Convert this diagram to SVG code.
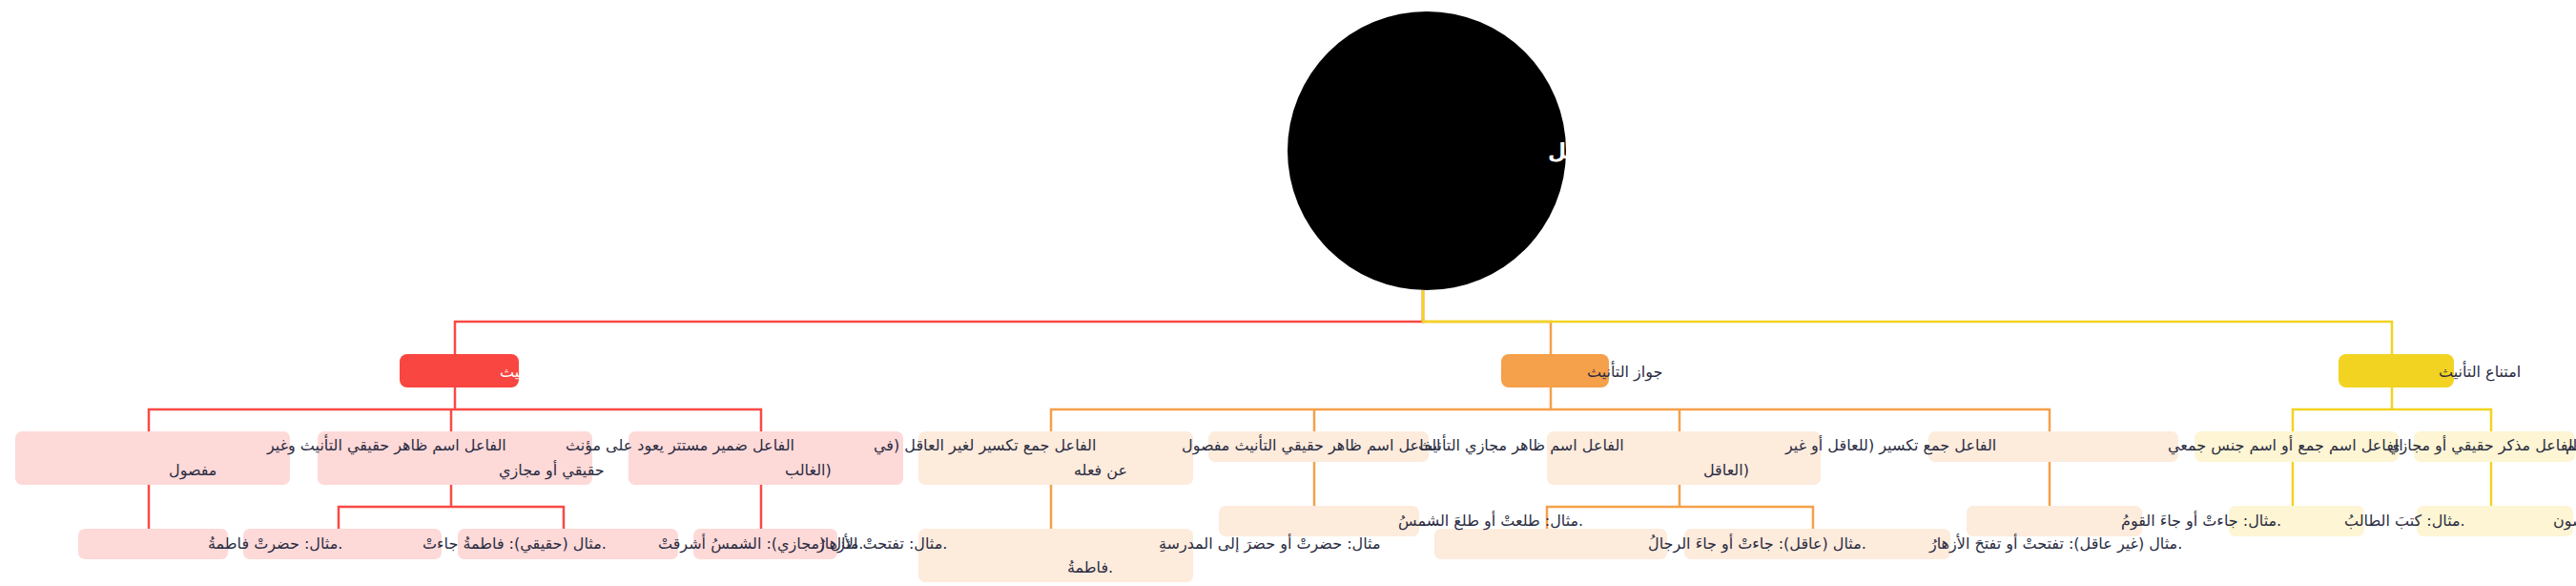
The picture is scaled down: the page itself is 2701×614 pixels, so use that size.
<svg xmlns="http://www.w3.org/2000/svg" width="2701" height="614" viewBox="0 0 2701 614">
<style>
.t{font-family:"DejaVu Sans","Noto Sans",sans-serif;font-size:16px;fill:#2B2D42}
.w{fill:#FFFFFF}
.rt{font-family:"DejaVu Sans","Noto Sans",sans-serif;font-size:22px;font-weight:bold;fill:#FFFFFF}
.c{fill:none;stroke-width:2.5}
.cr{stroke:#F94A44}.co{stroke:#F5A04A}.cy{stroke:#F2D322}
.r1{fill:#F94640}.o1{fill:#F5A04A}.y1{fill:#F2D322}
.r2{fill:#FDD9D8}.o2{fill:#FDEBDC}.y2{fill:#FDF5D3}
</style>
<rect width="2701" height="614" fill="#FFFFFF"/>
<g id="connectors" class="c">
<path class="cr" d="M1492,304V337H477V371"/>
<path class="co" d="M1492,304V337H1626V371"/>
<path class="cy" d="M1492,304V337H2508V371"/>
<path class="cr" d="M477,406V429H156V452M477,429H473V452M477,429H798V452"/>
<path class="cr" d="M156,508V554M473,508V531H355V554M473,531H591V554M798,508V554"/>
<path class="co" d="M1626,406V429H1102V452M1626,429H1378V452M1626,429H1761V452M1626,429H2149V452"/>
<path class="co" d="M1102,508V554M1378,484V530M1761,508V531H1622V554M1761,531H1901V554M2149,484V530"/>
<path class="cy" d="M2508,406V429H2404V452M2508,429H2612V452"/>
<path class="cy" d="M2404,484V530M2612,484V530"/>
</g>
<g id="root"><circle cx="1496" cy="158" r="146" fill="#000000"/><text class="rt" x="1623" y="166">تأنيث الفعل مع الفاعل</text></g>
<g id="n-y1a"><rect class="y2" x="2534" y="530" width="164" height="32" rx="7"/><text class="t" x="2677" y="551">مثال: حضرَ المدرسون.</text></g>
<g id="n-y1"><rect class="y2" x="2531" y="452" width="169" height="32" rx="7"/><text class="t" x="2690" y="472">الفاعل جمع مذكر سالم</text></g>
<g id="n-y2"><rect class="y2" x="2301" y="452" width="214" height="32" rx="7"/><text class="t" x="2504" y="472">الفاعل مذكر حقيقي أو مجازي</text></g>
<g id="n-yellow"><rect class="y1" x="2452" y="371" width="121" height="35" rx="8"/><text class="t" x="2557" y="395">امتناع التأنيث</text></g>
<g id="n-y2a"><rect class="y2" x="2337" y="530" width="142" height="32" rx="7"/><text class="t" x="2458" y="551">مثال: كتبَ الطالبُ.</text></g>
<g id="n-o4a"><rect class="o2" x="2062" y="530" width="184" height="32" rx="7"/><text class="t" x="2224" y="551">مثال: جاءتْ أو جاءَ القومُ.</text></g>
<g id="n-o4"><rect class="o2" x="2022" y="452" width="262" height="32" rx="7"/><text class="t" x="2273" y="472">الفاعل اسم جمع أو اسم جنس جمعي</text></g>
<g id="n-o3b"><rect class="o2" x="1766" y="554" width="279" height="32" rx="7"/><text class="t" x="2023" y="575">مثال (غير عاقل): تفتحتْ أو تفتحَ الأزهارُ.</text></g>
<g id="n-o3"><rect class="o2" x="1622" y="452" width="287" height="56" rx="7"/><text class="t" x="1872" y="472">الفاعل جمع تكسير (للعاقل أو غير</text><text class="t" x="1786" y="498">العاقل)</text></g>
<g id="n-orange"><rect class="o1" x="1574" y="371" width="113" height="35" rx="8"/><text class="t" x="1664" y="395">جواز التأنيث</text></g>
<g id="n-o3a"><rect class="o2" x="1504" y="554" width="244" height="32" rx="7"/><text class="t" x="1728" y="575">مثال (عاقل): جاءتْ أو جاءَ الرجالُ.</text></g>
<g id="n-o2a"><rect class="o2" x="1278" y="530" width="210" height="32" rx="7"/><text class="t" x="1466" y="551">مثال: طلعتْ أو طلعَ الشمسُ.</text></g>
<g id="n-o2"><rect class="o2" x="1267" y="452" width="231" height="32" rx="7"/><text class="t" x="1487" y="472">الفاعل اسم ظاهر مجازي التأنيث</text></g>
<g id="n-o1"><rect class="o2" x="963" y="452" width="288" height="56" rx="7"/><text class="t" x="1239" y="472">الفاعل اسم ظاهر حقيقي التأنيث مفصول</text><text class="t" x="1126" y="498">عن فعله</text></g>
<g id="n-o1a"><rect class="o2" x="963" y="554" width="288" height="56" rx="7"/><text class="t" x="1215" y="575">مثال: حضرتْ أو حضرَ إلى المدرسةِ</text><text class="t" x="1119" y="600">فاطمةُ.</text></g>
<g id="n-r3d"><rect class="r2" x="727" y="554" width="151" height="32" rx="7"/><text class="t" x="857" y="575">مثال: تفتحتْ الأزهارُ.</text></g>
<g id="n-r2c"><rect class="r2" x="659" y="452" width="288" height="56" rx="7"/><text class="t" x="916" y="472">الفاعل جمع تكسير لغير العاقل (في</text><text class="t" x="823" y="498">الغالب)</text></g>
<g id="n-r3c"><rect class="r2" x="480" y="554" width="231" height="32" rx="7"/><text class="t" x="690" y="575">مثال (مجازي): الشمسُ أشرقتْ.</text></g>
<g id="n-red"><rect class="r1" x="419" y="371" width="125" height="35" rx="8"/><text class="t w" x="524" y="395">وجوب التأنيث</text></g>
<g id="n-r2b"><rect class="r2" x="333" y="452" width="288" height="56" rx="7"/><text class="t" x="593" y="472">الفاعل ضمير مستتر يعود على مؤنث</text><text class="t" x="523" y="498">حقيقي أو مجازي</text></g>
<g id="n-r3b"><rect class="r2" x="255" y="554" width="208" height="32" rx="7"/><text class="t" x="443" y="575">مثال (حقيقي): فاطمةُ جاءتْ.</text></g>
<g id="n-r3a"><rect class="r2" x="82" y="554" width="157" height="32" rx="7"/><text class="t" x="218" y="575">مثال: حضرتْ فاطمةُ.</text></g>
<g id="n-r2a"><rect class="r2" x="16" y="452" width="288" height="56" rx="7"/><text class="t" x="280" y="472">الفاعل اسم ظاهر حقيقي التأنيث وغير</text><text class="t" x="177" y="498">مفصول</text></g>
</svg>
